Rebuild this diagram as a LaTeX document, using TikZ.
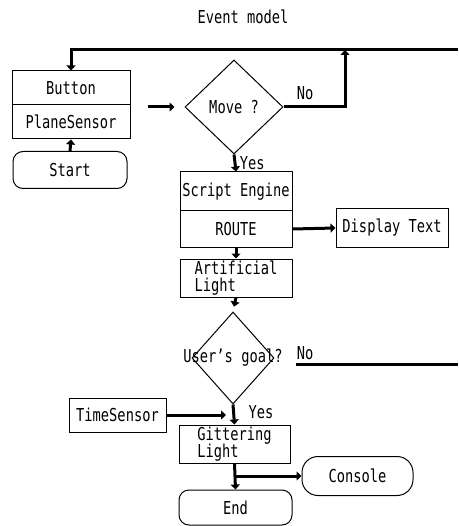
\documentclass[tikz,border=0pt]{standalone}
\usepackage{fontspec}
\setmainfont{DejaVu Sans Mono}[FakeStretch=0.77]
\usepackage{tikz}
\usetikzlibrary{positioning, arrows.meta, shapes.geometric}
\newcommand{\evfont}{\fontsize{17.8}{17.5}\selectfont}

\begin{document}
\begin{tikzpicture}[x=1pt, y=-1pt,
		box/.style={draw, line width=1pt, inner sep=0pt, font=\evfont},
		decide/.style={draw, diamond, line width=1pt, inner sep=0pt, font=\evfont},
		flow/.style={line width=3pt, -{Triangle[length=5pt, width=9pt]}},
		lbl/.style={font=\evfont}]
			\useasboundingbox (0,0) rectangle (458,526);
			% Titulo / Title
			\node[lbl] (title) at (243,17) {Event model};
			% Entrada / Input
			\node[box, minimum width=118pt, minimum height=34pt] (btn) at (71,88) {Button};
			\node[box, minimum width=118pt, minimum height=34pt] (psens) at (71,122) {PlaneSensor};
			\node[box, rounded corners=10pt, minimum width=114pt, minimum height=37pt] (start) at (70,170) {Start};
			\node[decide, minimum width=98pt, minimum height=94pt] (move) at (234,107) {Move ?};
			% Motor / Engine
			\node[box, minimum width=112pt, minimum height=39pt] (script) at (236,191.5) {Script Engine};
			\node[box, minimum width=112pt, minimum height=36pt] (route) at (236,229) {ROUTE};
			\node[box, minimum width=112pt, minimum height=38pt] (disp) at (392,228) {Display Text};
			\node[box, align=left, minimum width=112pt, minimum height=38pt] (art) at (236,278) {Artificial\\Light};
			\node[decide, minimum width=82pt, minimum height=92pt, label={[lbl]center:User's goal?}] (goal) at (233,358) {};
			% Salida / Output
			\node[box, minimum width=97pt, minimum height=34pt] (tsens) at (117.5,415) {TimeSensor};
			\node[box, align=left, minimum width=111pt, minimum height=38pt] (glit) at (234.5,444) {Gittering\\Light};
			\node[box, rounded corners=16pt, minimum width=111pt, minimum height=39pt] (cons) at (357.5,476) {Console};
			\node[box, rounded corners=10pt, minimum width=113pt, minimum height=35pt] (endn) at (235.5,507.5) {End};
			% Lazo / Loop
			\coordinate (redge) at (458,50);
			\coordinate (jn) at (345,50);
			\coordinate (gno) at (296,364);
			\coordinate (gedge) at (458,364);
			\coordinate (tsend) at (226,415);
			\draw[flow] (redge) -| (btn.north);
			\draw[flow] (move.east) -| (jn);
			\node[lbl] (no1) at (305,93) {No};
			% Flechas / Arrows
			\draw[flow] (start.north) -- (psens.south);
			\draw[flow, shorten <=17pt, shorten >=10pt] (btn.south east |- move.west) -- (move.west);
			\draw[flow] (move.south) -- (script.north) node[lbl, pos=0.5, right=0pt] (yes1) {Yes};
			\draw[flow] (route.east) -- (disp.west);
			\draw[flow] (route.south) -- (art.north);
			\draw[flow, shorten >=5pt] (art.south) -- (goal.north);
			\draw[line width=3pt] (gno) -- (gedge);
			\node[lbl] (no2) at (305,353) {No};
			\draw[flow] (goal.south) -- (glit.north);
			\node[lbl] (yes2) at (261,412) {Yes};
			\draw[flow] (tsens.east) -- (tsend);
			\draw[flow] (glit.south) -- (endn.north);
			\draw[flow] (glit.south |- cons.west) -- (cons.west);
\end{tikzpicture}
\end{document}
